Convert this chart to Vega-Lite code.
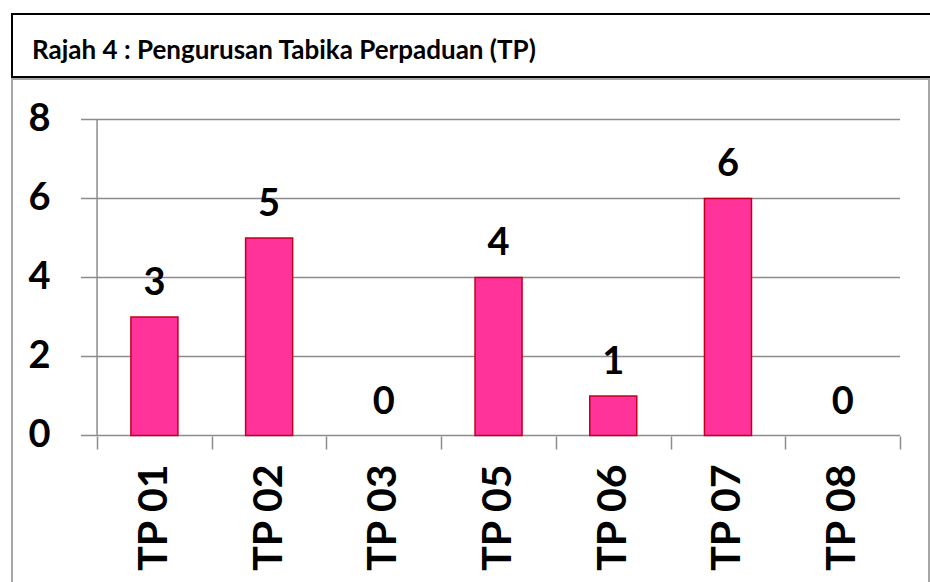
{
  "$schema": "https://vega.github.io/schema/vega-lite/v6.json",
  "padding": {"left": -10, "top": 13, "right": 0, "bottom": 0},
  "background": "white",
  "spacing": 0,
  "config": {"font": "Lato", "concat": {"spacing": 0}},
  "vconcat": [
    {
      "width": 922,
      "height": 63,
      "view": {"stroke": "black", "strokeWidth": 2},
      "data": {"values": [{"t": "Rajah 4 : Pengurusan Tabika Perpaduan (TP)"}]},
      "mark": {"type": "text", "align": "left", "baseline": "alphabetic", "x": 20, "y": 45, "fontSize": 26, "fontWeight": "bold", "color": "black", "font": "Lato"},
      "encoding": {"text": {"field": "t", "type": "nominal"}}
    },
    {
      "width": 917,
      "height": 520,
      "view": {"stroke": "#A6A6A6", "strokeWidth": 2},
      "data": {
        "values": [
          {"tp": "TP 01", "value": 3},
          {"tp": "TP 02", "value": 5},
          {"tp": "TP 03", "value": 0},
          {"tp": "TP 05", "value": 4},
          {"tp": "TP 06", "value": 1},
          {"tp": "TP 07", "value": 6},
          {"tp": "TP 08", "value": 0}
        ]
      },
      "layer": [
        {
          "data": {"values": [{"g": 0}, {"g": 2}, {"g": 4}, {"g": 6}, {"g": 8}]},
          "mark": {"type": "rule", "color": "#8C8C8C", "strokeWidth": 1.5},
          "encoding": {
            "x": {"datum": "TP 01", "bandPosition": -0.14, "type": "nominal"},
            "x2": {"datum": "TP 08", "bandPosition": 1},
            "y": {"field": "g", "type": "quantitative"}
          }
        },
        {
          "data": {"values": [{"a": 0, "b": 8}]},
          "mark": {"type": "rule", "color": "#8C8C8C", "strokeWidth": 1.5},
          "encoding": {
            "x": {"datum": "TP 01", "bandPosition": 0, "type": "nominal"},
            "y": {"field": "a", "type": "quantitative"},
            "y2": {"field": "b"}
          }
        },
        {
          "transform": [{"filter": "datum.value > 0"}],
          "mark": {"type": "bar", "width": {"band": 0.41}, "fill": "#FF3399", "stroke": "#C00020", "strokeWidth": 1.5},
          "encoding": {
            "x": {
              "field": "tp",
              "type": "nominal",
              "sort": null,
              "scale": {
                "domain": ["TP 01", "TP 02", "TP 03", "TP 05", "TP 06", "TP 07", "TP 08"],
                "paddingInner": 0,
                "paddingOuter": 0.497,
                "align": 0.746
              },
              "axis": {
                "title": null,
                "orient": "bottom",
                "offset": -163,
                "domain": false,
                "ticks": true,
                "tickBand": "extent",
                "tickSize": 13,
                "tickColor": "#8C8C8C",
                "tickWidth": 1.5,
                "labelAngle": -90,
                "labelAlign": "right",
                "labelBaseline": "middle",
                "labelPadding": 15,
                "labelFontSize": 41,
                "labelFontWeight": "bold",
                "labelColor": "black",
                "labelFont": "Lato"
              }
            },
            "y": {
              "field": "value",
              "type": "quantitative",
              "scale": {"domain": [-4.139, 9.025], "nice": false, "zero": false},
              "axis": {
                "title": null,
                "orient": "left",
                "offset": -85,
                "values": [0, 2, 4, 6, 8],
                "domain": false,
                "ticks": false,
                "grid": false,
                "labelPadding": 47,
                "labelFontSize": 38,
                "labelFontWeight": "bold",
                "labelColor": "black",
                "labelFont": "Lato",
                "labelBaseline": "middle"
              }
            }
          }
        },
        {
          "mark": {"type": "text", "fontSize": 38, "fontWeight": "bold", "color": "black", "baseline": "alphabetic", "dy": -22, "font": "Lato"},
          "encoding": {
            "x": {"field": "tp", "type": "nominal", "sort": null},
            "y": {"field": "value", "type": "quantitative"},
            "text": {"field": "value", "type": "quantitative"}
          }
        }
      ]
    }
  ]
}
